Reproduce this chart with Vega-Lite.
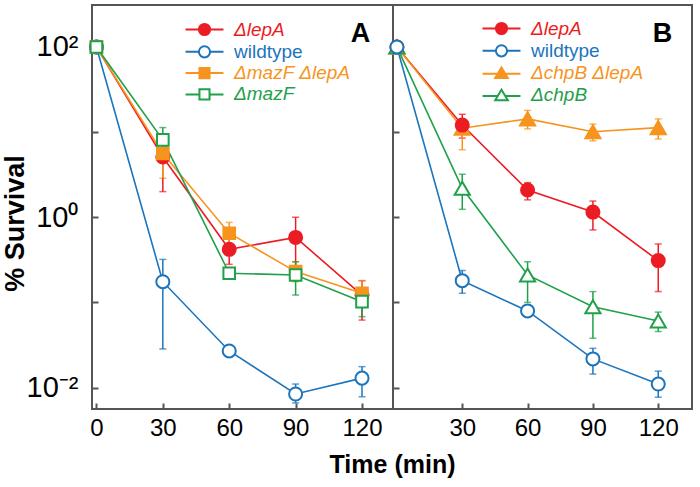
{
  "$schema": "https://vega.github.io/schema/vega-lite/v6.json",
  "background": "white",
  "padding": {"left": 0, "top": 4, "right": 4, "bottom": 4},
  "spacing": 0,
  "bounds": "flush",
  "config": {
    "font": "Liberation Sans",
    "view": {"stroke": "#555555", "strokeWidth": 2},
    "axis": {
      "grid": false, "domain": false, "tickColor": "#555555", "tickWidth": 2, "tickSize": -6,
      "labelFont": "Liberation Sans", "labelColor": "black", "titleColor": "black",
      "titleFont": "Liberation Sans", "titleFontWeight": "bold", "labelFlush": false
    },
    "legend": {
      "title": null, "orient": "none", "padding": 0, "symbolSize": 196, "symbolStrokeWidth": 2,
      "labelFont": "Liberation Sans", "labelFontSize": 19, "labelOffset": 20, "rowPadding": 1.3
    }
  },
  "resolve": {"scale": {"color": "independent", "fill": "independent"}},
  "datasets": {
    "a": [
      {"strain": "ΔlepA", "time": 0, "value": 100},
      {"strain": "ΔlepA", "time": 30, "value": 5.1, "lo": 2.0, "hi": 8.5},
      {"strain": "ΔlepA", "time": 60, "value": 0.42, "lo": 0.28, "hi": 0.58},
      {"strain": "ΔlepA", "time": 90, "value": 0.58, "lo": 0.22, "hi": 1.0},
      {"strain": "ΔlepA", "time": 120, "value": 0.122, "lo": 0.062, "hi": 0.18},
      {"strain": "wildtype", "time": 0, "value": 100},
      {"strain": "wildtype", "time": 30, "value": 0.175, "lo": 0.0284, "hi": 0.32},
      {"strain": "wildtype", "time": 60, "value": 0.0269, "lo": 0.025, "hi": 0.029},
      {"strain": "wildtype", "time": 90, "value": 0.0084, "lo": 0.0066, "hi": 0.011},
      {"strain": "wildtype", "time": 120, "value": 0.0129, "lo": 0.0078, "hi": 0.0176},
      {"strain": "ΔmazF ΔlepA", "time": 0, "value": 100},
      {"strain": "ΔmazF ΔlepA", "time": 30, "value": 5.6, "lo": 2.87, "hi": 8.8},
      {"strain": "ΔmazF ΔlepA", "time": 60, "value": 0.65, "lo": 0.45, "hi": 0.87},
      {"strain": "ΔmazF ΔlepA", "time": 90, "value": 0.23, "lo": 0.175, "hi": 0.30},
      {"strain": "ΔmazF ΔlepA", "time": 120, "value": 0.128, "lo": 0.089, "hi": 0.18},
      {"strain": "ΔmazF", "time": 0, "value": 100},
      {"strain": "ΔmazF", "time": 30, "value": 8.1, "lo": 5.5, "hi": 11.3},
      {"strain": "ΔmazF", "time": 60, "value": 0.22, "lo": 0.2, "hi": 0.24},
      {"strain": "ΔmazF", "time": 90, "value": 0.21, "lo": 0.122, "hi": 0.30},
      {"strain": "ΔmazF", "time": 120, "value": 0.102, "lo": 0.068, "hi": 0.14}
    ],
    "b": [
      {"strain": "ΔlepA", "time": 0, "value": 100},
      {"strain": "ΔlepA", "time": 30, "value": 12.1, "lo": 8.5, "hi": 16.2},
      {"strain": "ΔlepA", "time": 60, "value": 2.09, "lo": 1.6, "hi": 2.55},
      {"strain": "ΔlepA", "time": 90, "value": 1.15, "lo": 0.71, "hi": 1.55},
      {"strain": "ΔlepA", "time": 120, "value": 0.31, "lo": 0.134, "hi": 0.486},
      {"strain": "wildtype", "time": 0, "value": 100},
      {"strain": "wildtype", "time": 30, "value": 0.18, "lo": 0.128, "hi": 0.237},
      {"strain": "wildtype", "time": 60, "value": 0.0794, "lo": 0.072, "hi": 0.088},
      {"strain": "wildtype", "time": 90, "value": 0.0217, "lo": 0.0144, "hi": 0.0289},
      {"strain": "wildtype", "time": 120, "value": 0.011, "lo": 0.0077, "hi": 0.0156},
      {"strain": "ΔchpB ΔlepA", "time": 0, "value": 100},
      {"strain": "ΔchpB ΔlepA", "time": 30, "value": 11.1, "lo": 6.2, "hi": 14.0},
      {"strain": "ΔchpB ΔlepA", "time": 60, "value": 14.3, "lo": 10.9, "hi": 18.0},
      {"strain": "ΔchpB ΔlepA", "time": 90, "value": 10.1, "lo": 7.9, "hi": 12.4},
      {"strain": "ΔchpB ΔlepA", "time": 120, "value": 11.3, "lo": 8.3, "hi": 14.3},
      {"strain": "ΔchpB", "time": 0, "value": 100},
      {"strain": "ΔchpB", "time": 30, "value": 2.19, "lo": 1.24, "hi": 3.2},
      {"strain": "ΔchpB", "time": 60, "value": 0.21, "lo": 0.10, "hi": 0.30},
      {"strain": "ΔchpB", "time": 90, "value": 0.089, "lo": 0.038, "hi": 0.134},
      {"strain": "ΔchpB", "time": 120, "value": 0.0605, "lo": 0.0455, "hi": 0.077}
    ]
  },
  "hconcat": [
    {
      "width": 301,
      "height": 404,
      "data": {"name": "a"},
      "resolve": {"scale": {"color": "independent"}, "legend": {"color": "independent"}},
      "layer": [
        {
          "mark": {"type": "line", "strokeWidth": 1.6},
          "encoding": {
            "x": {"field": "time", "type": "quantitative", "title": "Time (min)",
              "scale": {"domain": [-2, 134], "nice": false, "zero": false},
              "axis": {"values": [0, 30, 60, 90, 120], "title": "Time (min)", "labelFontSize": 24, "labelPadding": 13,
                "titleFontSize": 25, "titleX": 300, "titleY": 55, "titleAlign": "center", "titleBaseline": "middle"}},
            "y": {"field": "value", "type": "quantitative", "title": "% Survival",
              "scale": {"type": "log", "domain": [0.0056, 311], "nice": false},
              "axis": {"values": [0.01, 0.1, 1, 10, 100],
                "labelExpr": "datum.value == 100 ? '10²' : datum.value == 1 ? '10⁰' : datum.value == 0.01 ? '10⁻²' : ''",
                "labelFontSize": 29, "labelPadding": 20, "title": "% Survival", "titleFontSize": 27,
                "titleX": -77, "titleY": 218, "titleAngle": -90, "titleAlign": "center", "titleBaseline": "middle"}},
            "color": {"field": "strain", "type": "nominal",
              "scale": {"domain": ["ΔlepA", "wildtype", "ΔmazF ΔlepA", "ΔmazF"], "range": ["#ec1c24", "#1c75bc", "#f7941e", "#1fa04a"]},
              "legend": {
                "legendX": 103, "legendY": 15,
                "encode": {
                  "symbols": {"update": {
                    "shape": {"signal": "(datum.value == 'ΔlepA' || datum.value == 'wildtype') ? 'M-2.71,0H-0.8M0.8,0H2.71M0.8,0A0.8,0.8,0,1,1,-0.8,0A0.8,0.8,0,1,1,0.8,0Z' : 'M-2.71,0H-0.72M0.72,0H2.71M-0.72,-0.72H0.72V0.72H-0.72Z'"},
                    "fill": {"signal": "datum.value == 'ΔlepA' ? '#ec1c24' : datum.value == 'ΔmazF ΔlepA' ? '#f7941e' : 'white'"},
                    "stroke": {"signal": "datum.value == 'ΔlepA' ? '#ec1c24' : datum.value == 'wildtype' ? '#1c75bc' : datum.value == 'ΔmazF ΔlepA' ? '#f7941e' : '#1fa04a'"},
                    "opacity": {"value": 1},
                    "strokeWidth": {"value": 2}
                  }},
                  "labels": {"update": {
                    "fill": {"signal": "datum.value == 'ΔlepA' ? '#ec1c24' : datum.value == 'wildtype' ? '#1c75bc' : datum.value == 'ΔmazF ΔlepA' ? '#f7941e' : '#1fa04a'"},
                    "fontStyle": {"signal": "datum.value == 'wildtype' ? 'normal' : 'italic'"}
                  }}
                }
              }}
          }
        },
        {
          "mark": {"type": "errorbar", "ticks": true, "size": 7, "thickness": 1.5},
          "encoding": {
            "x": {"field": "time", "type": "quantitative", "title": "Time (min)"},
            "y": {"field": "lo", "type": "quantitative", "title": "% Survival"},
            "y2": {"field": "hi"},
            "color": {"field": "strain", "type": "nominal", "legend": null,
              "scale": {"domain": ["ΔlepA", "wildtype", "ΔmazF ΔlepA", "ΔmazF"], "range": ["#ec1c24", "#1c75bc", "#f7941e", "#1fa04a"]}}
          }
        },
        {
          "transform": [{"filter": {"field": "strain", "oneOf": ["ΔlepA", "wildtype"]}}],
          "mark": {"type": "point", "shape": "circle", "size": 170, "strokeWidth": 2, "opacity": 1},
          "encoding": {
            "x": {"field": "time", "type": "quantitative", "title": "Time (min)"},
            "y": {"field": "value", "type": "quantitative", "title": "% Survival"},
            "color": {"field": "strain", "type": "nominal", "legend": null,
              "scale": {"domain": ["ΔlepA", "wildtype", "ΔmazF ΔlepA", "ΔmazF"], "range": ["#ec1c24", "#1c75bc", "#f7941e", "#1fa04a"]}},
            "fill": {"field": "strain", "type": "nominal", "legend": null,
              "scale": {"domain": ["ΔlepA", "wildtype", "ΔmazF ΔlepA", "ΔmazF"], "range": ["#ec1c24", "white", "#f7941e", "white"]}}
          }
        },
        {
          "transform": [{"filter": {"field": "strain", "oneOf": ["ΔmazF ΔlepA", "ΔmazF"]}}],
          "mark": {"type": "point", "shape": "square", "size": 135, "strokeWidth": 2, "opacity": 1},
          "encoding": {
            "x": {"field": "time", "type": "quantitative", "title": "Time (min)"},
            "y": {"field": "value", "type": "quantitative", "title": "% Survival"},
            "color": {"field": "strain", "type": "nominal", "legend": null,
              "scale": {"domain": ["ΔlepA", "wildtype", "ΔmazF ΔlepA", "ΔmazF"], "range": ["#ec1c24", "#1c75bc", "#f7941e", "#1fa04a"]}},
            "fill": {"field": "strain", "type": "nominal", "legend": null}
          }
        },
        {
          "data": {"values": [{}]},
          "mark": {"type": "text", "text": "A", "fontSize": 27, "fontWeight": "bold", "align": "center", "baseline": "alphabetic", "color": "black"},
          "encoding": {
            "x": {"datum": 119.3, "type": "quantitative", "title": "Time (min)"},
            "y": {"datum": 115, "type": "quantitative", "title": "% Survival"}
          }
        }
      ]
    },
    {
      "width": 299,
      "height": 404,
      "data": {"name": "b"},
      "resolve": {"scale": {"color": "independent"}, "legend": {"color": "independent"}},
      "layer": [
        {
          "mark": {"type": "line", "strokeWidth": 1.6},
          "encoding": {
            "x": {"field": "time", "type": "quantitative",
              "scale": {"domain": [-1.8, 135.5], "nice": false, "zero": false},
              "axis": {"values": [30, 60, 90, 120], "title": null, "labelFontSize": 24, "labelPadding": 13}},
            "y": {"field": "value", "type": "quantitative",
              "scale": {"type": "log", "domain": [0.0056, 311], "nice": false},
              "axis": {"values": [0.01, 0.1, 1, 10, 100], "labels": false, "title": null}},
            "color": {"field": "strain", "type": "nominal",
              "scale": {"domain": ["ΔlepA", "wildtype", "ΔchpB ΔlepA", "ΔchpB"], "range": ["#ec1c24", "#1c75bc", "#f7941e", "#1fa04a"]},
              "legend": {
                "legendX": 99, "legendY": 14,
                "encode": {
                  "symbols": {"update": {
                    "shape": {"signal": "(datum.value == 'ΔlepA' || datum.value == 'wildtype') ? 'M-2.71,0H-0.8M0.8,0H2.71M0.8,0A0.8,0.8,0,1,1,-0.8,0A0.8,0.8,0,1,1,0.8,0Z' : 'M-2.71,0.1H-0.6M0.6,0.1H2.71M0,-0.8L0.9,0.7H-0.9Z'"},
                    "fill": {"signal": "datum.value == 'ΔlepA' ? '#ec1c24' : datum.value == 'ΔchpB ΔlepA' ? '#f7941e' : 'white'"},
                    "stroke": {"signal": "datum.value == 'ΔlepA' ? '#ec1c24' : datum.value == 'wildtype' ? '#1c75bc' : datum.value == 'ΔchpB ΔlepA' ? '#f7941e' : '#1fa04a'"},
                    "opacity": {"value": 1},
                    "strokeWidth": {"value": 2}
                  }},
                  "labels": {"update": {
                    "fill": {"signal": "datum.value == 'ΔlepA' ? '#ec1c24' : datum.value == 'wildtype' ? '#1c75bc' : datum.value == 'ΔchpB ΔlepA' ? '#f7941e' : '#1fa04a'"},
                    "fontStyle": {"signal": "datum.value == 'wildtype' ? 'normal' : 'italic'"}
                  }}
                }
              }}
          }
        },
        {
          "mark": {"type": "errorbar", "ticks": true, "size": 7, "thickness": 1.5},
          "encoding": {
            "x": {"field": "time", "type": "quantitative"},
            "y": {"field": "lo", "type": "quantitative"},
            "y2": {"field": "hi"},
            "color": {"field": "strain", "type": "nominal", "legend": null,
              "scale": {"domain": ["ΔlepA", "wildtype", "ΔchpB ΔlepA", "ΔchpB"], "range": ["#ec1c24", "#1c75bc", "#f7941e", "#1fa04a"]}}
          }
        },
        {
          "transform": [{"filter": {"field": "strain", "oneOf": ["ΔchpB ΔlepA", "ΔchpB"]}}],
          "mark": {"type": "point", "shape": "triangle-up", "size": 230, "strokeWidth": 2, "opacity": 1},
          "encoding": {
            "x": {"field": "time", "type": "quantitative"},
            "y": {"field": "value", "type": "quantitative"},
            "color": {"field": "strain", "type": "nominal", "legend": null,
              "scale": {"domain": ["ΔlepA", "wildtype", "ΔchpB ΔlepA", "ΔchpB"], "range": ["#ec1c24", "#1c75bc", "#f7941e", "#1fa04a"]}},
            "fill": {"field": "strain", "type": "nominal", "legend": null,
              "scale": {"domain": ["ΔlepA", "wildtype", "ΔchpB ΔlepA", "ΔchpB"], "range": ["#ec1c24", "white", "#f7941e", "white"]}}
          }
        },
        {
          "transform": [{"filter": {"field": "strain", "oneOf": ["ΔlepA", "wildtype"]}}],
          "mark": {"type": "point", "shape": "circle", "size": 170, "strokeWidth": 2, "opacity": 1},
          "encoding": {
            "x": {"field": "time", "type": "quantitative"},
            "y": {"field": "value", "type": "quantitative"},
            "color": {"field": "strain", "type": "nominal", "legend": null,
              "scale": {"domain": ["ΔlepA", "wildtype", "ΔchpB ΔlepA", "ΔchpB"], "range": ["#ec1c24", "#1c75bc", "#f7941e", "#1fa04a"]}},
            "fill": {"field": "strain", "type": "nominal", "legend": null}
          }
        },
        {
          "data": {"values": [{}]},
          "mark": {"type": "text", "text": "B", "fontSize": 27, "fontWeight": "bold", "align": "center", "baseline": "alphabetic", "color": "black"},
          "encoding": {
            "x": {"datum": 121.9, "type": "quantitative"},
            "y": {"datum": 115, "type": "quantitative"}
          }
        }
      ]
    }
  ]
}
